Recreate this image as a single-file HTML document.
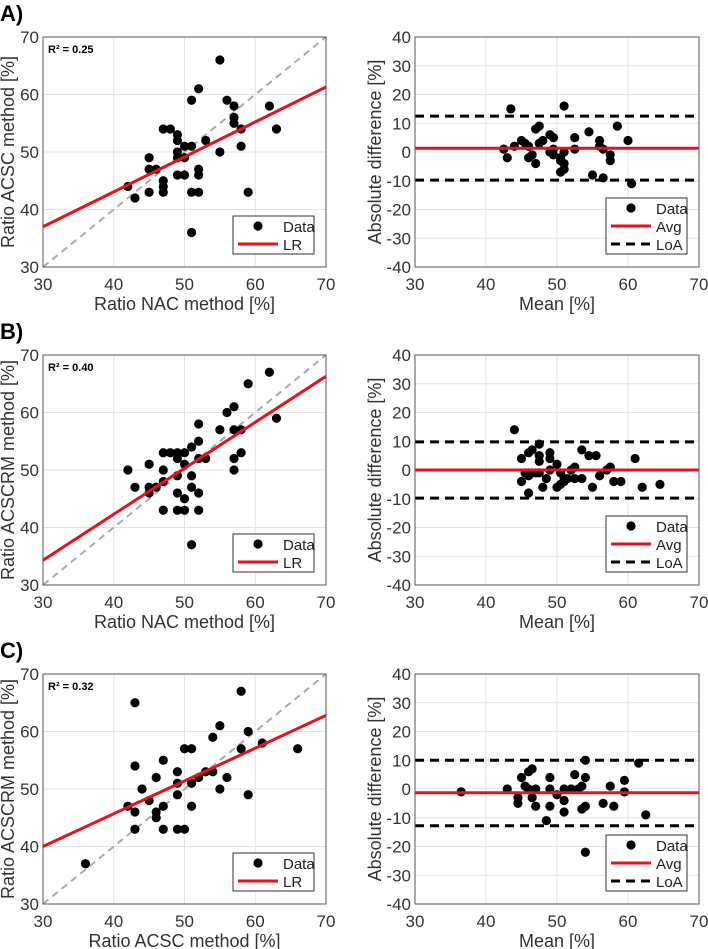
<!DOCTYPE html>
<html><head><meta charset="utf-8">
<style>
html,body{margin:0;padding:0;background:#fff;}
svg{display:block;font-family:"Liberation Sans","DejaVu Sans",sans-serif;}
</style></head>
<body>
<svg id="fig" width="708" height="949" viewBox="0 0 708 949" xmlns="http://www.w3.org/2000/svg"></svg>
<script>
// ---- data ----
const aScatterX=[42,43,45,45,45,46,47,47,47,47,48,49,49,49,49,49,50,50,50,51,51,51,51,52,52,52,52,53,55,55,56,57,57,57,58,58,59,62,63];
const aScatterY=[44,42,49,47,43,47,54,45,44,43,54,53,52,50,49,46,51,49,46,59,51,43,36,61,47,46,43,52,66,50,59,58,56,55,54,51,43,58,54];
const aLR=[37,61.3];
const aBAmean=[42.5,43,43.5,44,45,45.5,46,46,46.5,47,47,47.5,47.5,48,49,49,49.5,49.5,49.5,50.5,50.5,50.5,51,51,51,51,52.5,52.5,54.5,55,56,56,56.5,56.5,57.5,57.5,58.5,60,60.5];
const aBAdiff=[1,-2,15,2,4,3,2,-2,-1,8,-4,9,3,4,6,0,5,1,-1,-2,-3,-7,16,0,-4,-6,5,1,7,-8,4,2,1,-9,-1,-3,9,4,-11];
const aBAlines=[1.3,12.5,-9.8];

const bScatterX=[42,43,45,45,45,46,47,47,47,47,48,49,49,49,49,49,50,50,50,50,51,51,51,51,52,52,52,52,52,53,55,56,57,57,57,57,58,58,59,62,63];
const bScatterY=[50,47,51,47,46,47,53,50,48,43,53,53,52,49,46,43,53,51,45,43,54,49,47,37,58,55,52,46,43,52,57,60,61,57,52,50,57,53,65,67,59];
const bLR=[34.3,66.3];
const bBAmean=[44,45,45,45.5,46,46,46,46,46.5,46.5,47,47.5,47.5,47.5,47.5,48,48.5,49,49,49,50,50,50.5,50.5,51,51,51.5,52,52.5,52.5,53.5,53.5,54.5,55,55.5,56,57,57.5,58,59,61,62,64.5];
const bBAdiff=[14,4,-4,-1,6,-1,-2,-8,7,-1,-1,9,5,3,-1,-6,-3,6,4,0,2,-6,-1,-5,-3,-4,-3,0,1,-3,7,-3,5,-6,5,-2,0,1,-4,-4,4,-6,-5];
const bBAlines=[0,9.8,-9.8];

const cScatterX=[36,42,43,43,43,43,44,45,46,46,46,47,47,47,49,49,49,49,50,50,51,51,51,52,53,54,54,55,55,56,58,58,59,59,61,66];
const cScatterY=[37,47,65,54,46,43,50,48,52,46,45,55,47,43,53,51,49,43,57,43,57,51,47,52,53,59,53,61,50,52,67,57,60,49,58,57];
const cLR=[40,62.8];
const cBAmean=[36.5,43,44.5,44.5,45,45.5,46,46,46.5,46.5,47,47,48.5,49,49,49,50,51,51,51,52,52.5,53,53.5,53.5,54,54,54,54,56.5,57.5,58,59.5,59.5,61.5,62.5];
const cBAdiff=[-1,0,-3,-5,4,1,6,0,7,-3,0,-6,-11,4,0,-6,-2,0,-4,-8,0,5,0,1,-7,10,4,-6,-22,-5,1,-6,3,-1,9,-9];
const cBAlines=[-1.3,10,-12.8];

const xTicks=[30,40,50,60,70];
const yTicksScatter=[30,40,50,60,70];
const yTicksBA=[-40,-30,-20,-10,0,10,20,30,40];

const panels=[
 {label:"A)",top:37,sx:aScatterX,sy:aScatterY,lr:aLR,r2:"R² = 0.25",xl:"Ratio NAC method [%]",yl:"Ratio ACSC method [%]",bm:aBAmean,bd:aBAdiff,bl:aBAlines,key:"a"},
 {label:"B)",top:355,sx:bScatterX,sy:bScatterY,lr:bLR,r2:"R² = 0.40",xl:"Ratio NAC method [%]",yl:"Ratio ACSCRM method [%]",bm:bBAmean,bd:bBAdiff,bl:bBAlines,key:"b"},
 {label:"C)",top:674,sx:cScatterX,sy:cScatterY,lr:cLR,r2:"R² = 0.32",xl:"Ratio ACSC method [%]",yl:"Ratio ACSCRM method [%]",bm:cBAmean,bd:cBAdiff,bl:cBAlines,key:"c"}
];

const NS="http://www.w3.org/2000/svg";
const svg=document.getElementById('fig');
function mk(tag,attrs,parent,txt){const e=document.createElementNS(NS,tag);for(const k in attrs)e.setAttribute(k,attrs[k]);if(txt!==undefined)e.textContent=txt;(parent||svg).appendChild(e);return e;}

const H=230;
function axesBox(g,L,R,T,yMin,yMax,yTicks,xlab,ylab,ylabX){
  const B=T+H;
  const sx=v=>L+(v-30)/40*(R-L);
  const sy=v=>B-(v-yMin)/(yMax-yMin)*H;
  xTicks.forEach(t=>{const x=sx(t);
    if(t>30&&t<70){const gl=mk('line',{x1:x,x2:x,y1:T,y2:B,stroke:'#e3e3e3','stroke-width':1},g);}
    const tl=mk('text',{x:x,y:B+23,'font-size':17,fill:'#333','text-anchor':'middle'},g,String(t));
    
  });
  yTicks.forEach(t=>{const y=sy(t);
    if(t>yMin&&t<yMax){const gl=mk('line',{x1:L,x2:R,y1:y,y2:y,stroke:'#e3e3e3','stroke-width':1},g);}
    const tl=mk('text',{x:L-4,y:y+6,'font-size':17,fill:'#333','text-anchor':'end'},g,String(t));
    
  });
  const xt=mk('text',{x:(L+R)/2,y:B+43,'font-size':18,fill:'#333','text-anchor':'middle'},g,xlab);
  
  const yt=mk('text',{x:0,y:0,'font-size':18,fill:'#333','text-anchor':'middle',transform:`translate(${ylabX},${T+H/2}) rotate(-90)`},g,ylab);
  
  return {sx,sy,B};
}
function frame(g,L,R,T){const f=mk('rect',{x:L,y:T,width:R-L,height:H,fill:'none',stroke:'#555','stroke-width':1},g);}
function dots(g,xs,ys,sx,sy){xs.forEach((v,i)=>{const c=mk('circle',{cx:sx(v),cy:sy(ys[i]),r:4.6,fill:'#000'},g);});}

panels.forEach(p=>{
  const T=p.top;
  const pl=mk('text',{x:0,y:T-16,'font-size':22,'font-weight':'bold',fill:'#000'},svg,p.label);
  
  const g1=mk('g',{});
  const L=43,R=326;
  const a=axesBox(g1,L,R,T,30,70,yTicksScatter,p.xl,p.yl,14);
  const id=mk('line',{x1:a.sx(30),y1:a.sy(30),x2:a.sx(70),y2:a.sy(70),stroke:'#aaa','stroke-width':2,'stroke-dasharray':'7,5'},g1);
  
  dots(g1,p.sx,p.sy,a.sx,a.sy);
  const lr=mk('line',{x1:a.sx(30),y1:a.sy(p.lr[0]),x2:a.sx(70),y2:a.sy(p.lr[1]),stroke:'#e8101a','stroke-width':3},g1);
  
  frame(g1,L,R,T);
  const r2=mk('text',{x:48,y:T+16,'font-size':11,'font-weight':'bold',fill:'#000'},g1,p.r2);
  
  const lg=mk('g',{},g1);
  mk('rect',{x:233,y:T+179,width:81,height:38,fill:'#fff',stroke:'#333','stroke-width':1},lg);
  mk('circle',{cx:258,cy:T+189,r:4.6,fill:'#000'},lg);
  const t1=mk('text',{x:283,y:T+195,'font-size':15,fill:'#222'},lg,'Data');
  mk('line',{x1:238,x2:278,y1:T+207,y2:T+207,stroke:'#e8101a','stroke-width':3},lg);
  const t2=mk('text',{x:283,y:T+213,'font-size':15,fill:'#222'},lg,'LR');

  const g2=mk('g',{});
  const L2=415,R2=699;
  const b=axesBox(g2,L2,R2,T,-40,40,yTicksBA,'Mean [%]','Absolute difference [%]',381);
  dots(g2,p.bm,p.bd,b.sx,b.sy);
  const avg=mk('line',{x1:L2,x2:R2,y1:b.sy(p.bl[0]),y2:b.sy(p.bl[0]),stroke:'#e8101a','stroke-width':3},g2);
  
  [p.bl[1],p.bl[2]].forEach(v=>{const l=mk('line',{x1:L2,x2:R2,y1:b.sy(v),y2:b.sy(v),stroke:'#000','stroke-width':3,'stroke-dasharray':'9,6'},g2);
    });
  frame(g2,L2,R2,T);
  const lg2=mk('g',{},g2);
  mk('rect',{x:606,y:T+161,width:81,height:56,fill:'#fff',stroke:'#333','stroke-width':1},lg2);
  mk('circle',{cx:631,cy:T+171,r:4.6,fill:'#000'},lg2);
  const u1=mk('text',{x:656,y:T+177,'font-size':15,fill:'#222'},lg2,'Data');
  mk('line',{x1:611,x2:651,y1:T+189,y2:T+189,stroke:'#e8101a','stroke-width':3},lg2);
  const u2=mk('text',{x:656,y:T+195,'font-size':15,fill:'#222'},lg2,'Avg');
  mk('line',{x1:611,x2:651,y1:T+207,y2:T+207,stroke:'#000','stroke-width':3,'stroke-dasharray':'9,6'},lg2);
  const u3=mk('text',{x:656,y:T+213,'font-size':15,fill:'#222'},lg2,'LoA');
});
</script>
</body></html>
